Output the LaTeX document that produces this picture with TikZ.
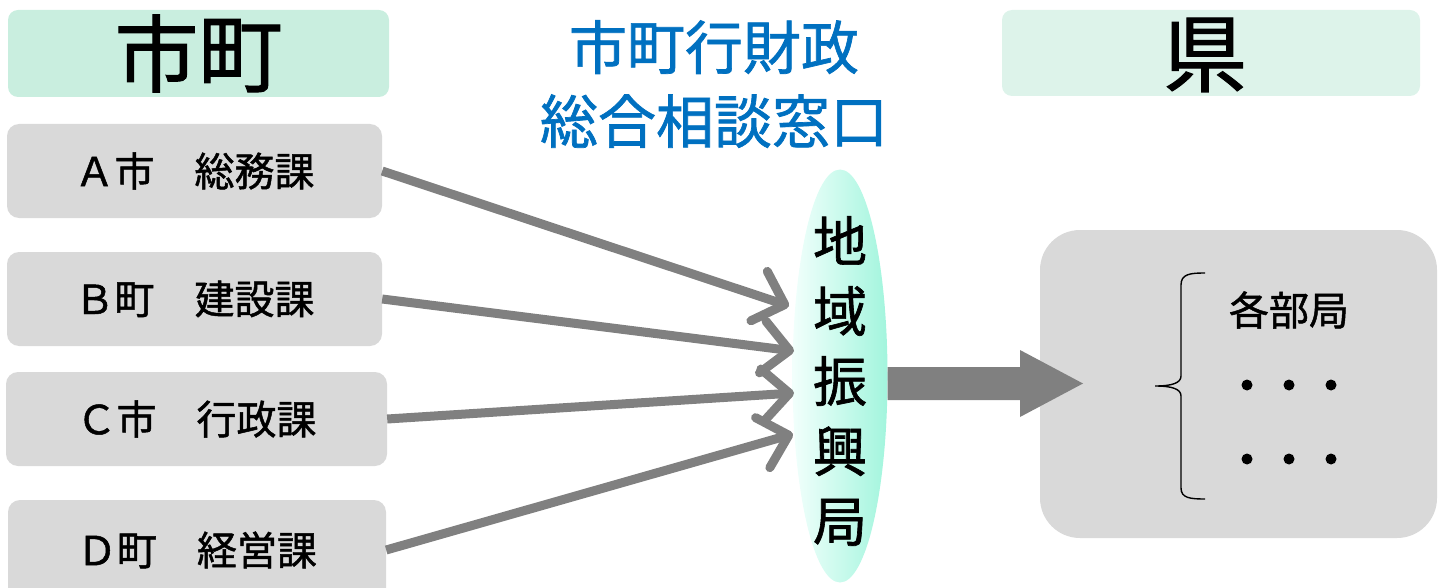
\documentclass[tikz,border=0pt]{standalone}
\usepackage{fontspec}
\setmainfont{Noto Sans CJK JP}[FakeBold=1.2]
\usetikzlibrary{arrows.meta,shapes.geometric}
\definecolor{hdrA}{HTML}{C9EEDF}
\definecolor{hdrB}{HTML}{DDF3EA}
\definecolor{boxg}{HTML}{D9D9D9}
\definecolor{arrg}{HTML}{808080}
\definecolor{blu}{HTML}{0070C0}
\definecolor{ellA}{HTML}{F2FFFC}
\definecolor{ellB}{HTML}{A2F5DD}
\newcommand{\fsz}[1]{\fontsize{#1}{#1}\selectfont}
\begin{document}
\begin{tikzpicture}[x=1pt,y=-1pt,
  hdr/.style={rounded corners=10pt, inner sep=0pt, font=\fsz{84}},
  srcbox/.style={fill=boxg, rounded corners=12pt, inner sep=0pt, minimum height=94pt, font=\fsz{40}},
  conn/.style={draw=arrg, line width=9pt, -{Straight Barb[length=27pt,width=52pt,round]}},
  dotc/.style={circle, fill=black, inner sep=0pt, minimum size=11pt}]
\useasboundingbox (0,0) rectangle (1445,588);
% headers
\node[hdr, fill=hdrA, minimum width=381pt, minimum height=87pt] (hm) at (198.5,53.5) {市町};
\node[hdr, fill=hdrB, minimum width=418pt, minimum height=86pt] (hk) at (1211,53) {};
\node[font=\fsz{84}, inner sep=0pt] (hkt) at (1205,55) {県};
\node[text=blu, font=\fsz{58}, align=center, inner sep=0pt] (title) at (714,84)
  {市町行財政\\[16pt]総合相談窓口};
% source boxes
\node[srcbox, minimum width=375pt] (A) at (194.5,171) {Ａ市　総務課};
\node[srcbox, minimum width=375pt] (B) at (194.5,299) {Ｂ町　建設課};
\node[srcbox, minimum width=381pt] (C) at (196.5,419) {Ｃ市　行政課};
\node[srcbox, minimum width=378pt, minimum height=100pt] (D) at (197,550) {Ｄ町　経営課};
% ellipse
\node[ellipse, inner sep=0pt, minimum width=95pt, minimum height=413pt,
  left color=ellA, right color=ellB] (ell) at (840,376) {};
\node[font=\fsz{54}, align=center, inner sep=0pt] (ellt) at (840,381)
  {地\\[16pt]域\\[16pt]振\\[16pt]興\\[16pt]局};
% arrow tips
\coordinate (tA) at (789,306);
\coordinate (tB) at (794,351);
\coordinate (tC) at (794,393);
\coordinate (tD) at (793,434);
\draw[conn] (A.east) -- (tA);
\draw[conn] (B.east) -- (tB);
\draw[conn] (C.east) -- (tC);
\draw[conn] (D.east) -- (tD);
% right box
\node[fill=boxg, rounded corners=40pt, minimum width=397pt, minimum height=308pt, inner sep=0pt] (R) at (1238.5,384) {};
% block arrow
\fill[arrg] (ell.east |- 0,367) -- (1020,367) -- (1020,350) -- (1083,383.5) -- (1020,417) -- (1020,400) -- (ell.east |- 0,400) -- cycle;
% brace
\draw[line width=1.4pt] (1205,273) .. controls (1190,273) and (1181,274) .. (1181,285)
  -- (1181,376) .. controls (1181,383) and (1172,386) .. (1155,386)
  .. controls (1172,386) and (1181,389) .. (1181,396)
  -- (1181,488) .. controls (1181,498) and (1190,499) .. (1205,499);
\node[font=\fsz{40}, inner sep=0pt] (kb) at (1289,310) {各部局};
\node[dotc] (d1) at (1247,385) {};
\node[dotc] (d2) at (1289,385) {};
\node[dotc] (d3) at (1331,385) {};
\node[dotc] (d4) at (1247,459) {};
\node[dotc] (d5) at (1289,459) {};
\node[dotc] (d6) at (1331,459) {};
\end{tikzpicture}
\end{document}
